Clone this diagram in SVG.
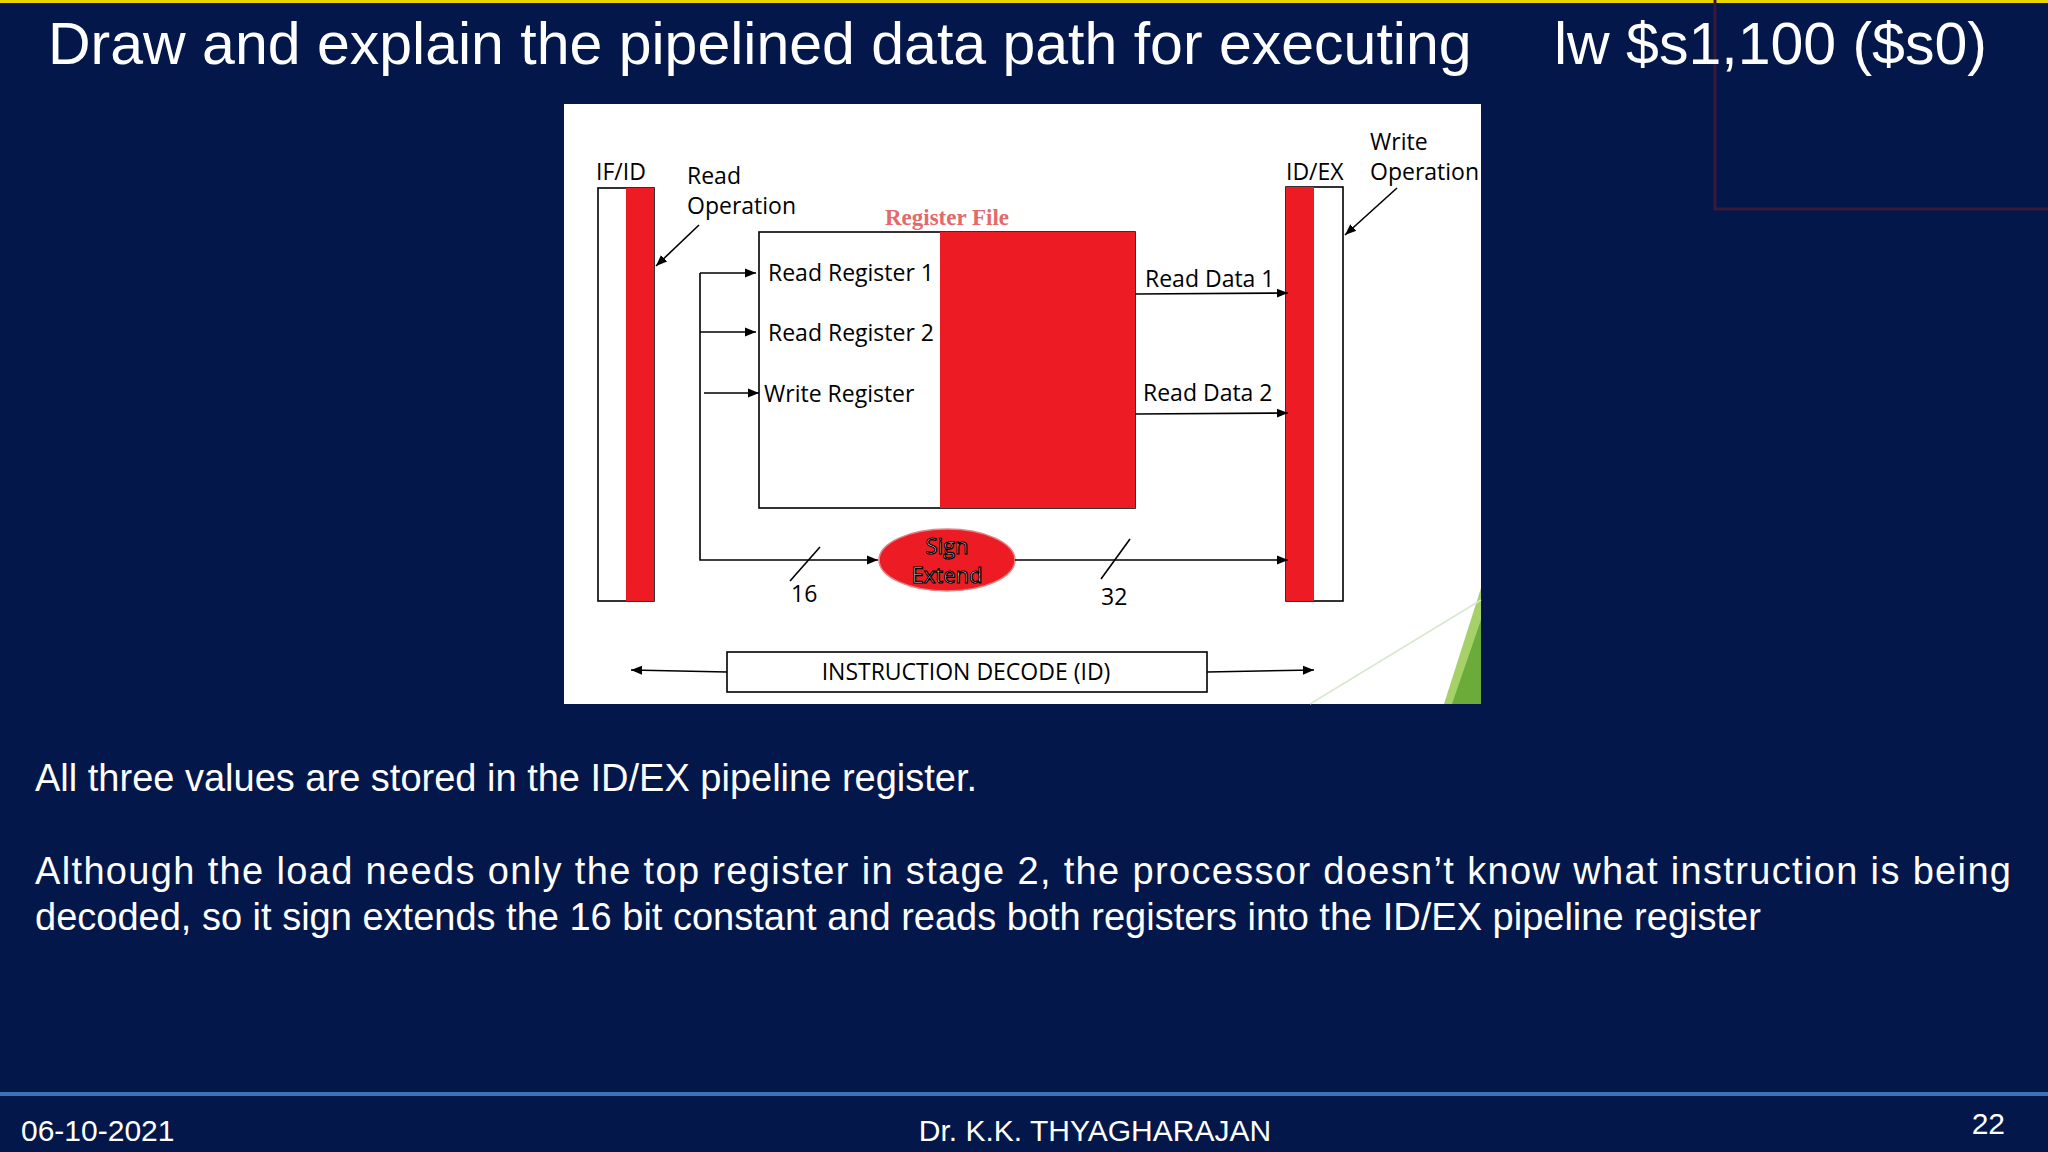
<svg xmlns="http://www.w3.org/2000/svg" width="2048" height="1152" viewBox="0 0 2048 1152">
<defs>
<marker id="ah" viewBox="0 0 10 10" refX="10" refY="5" markerWidth="7" markerHeight="7" orient="auto-start-reverse"><path d="M0,1 L10,5 L0,9 z" fill="#000"/></marker>
<style>
.w{font-family:"Liberation Sans",Arial,sans-serif;fill:#fff}
.d{font-family:"Open Sans","DejaVu Sans",sans-serif;fill:#000;font-size:23px}
.ln{stroke:#000;stroke-width:1.6;fill:none}
.box{fill:#fff;stroke:#000;stroke-width:1.6}
.red{fill:#ed1c24}
</style>
</defs>
<rect width="2048" height="1152" fill="#03174a"/>
<rect width="2048" height="3" fill="#e8d800"/>
<path d="M1715,0 V209 H2048" stroke="#3a1838" stroke-width="3" fill="none"/>
<text class="w" x="48" y="64" font-size="59">Draw and explain the pipelined data path for executing</text>
<text class="w" x="1554" y="64" font-size="59">lw $s1,100 ($s0)</text>
<rect x="564" y="104" width="917" height="600" fill="#fff"/>
<path d="M1481,588 L1481,704 L1444,704 Z" fill="#a6d06a"/>
<path d="M1481,620 L1481,704 L1452,704 Z" fill="#6aab3a"/>
<line x1="1310" y1="704" x2="1481" y2="600" stroke="#d8e8d0" stroke-width="1.5"/>
<g id="ifid">
<rect class="box" x="598" y="188" width="56" height="413"/>
<rect class="red" x="626" y="188" width="28" height="413"/>
<text class="d" x="596" y="180">IF/ID</text>
<text class="d" x="687" y="184">Read</text>
<text class="d" x="687" y="214">Operation</text>
</g>
<g id="regfile">
<text x="947" y="225" text-anchor="middle" font-family="Liberation Serif,serif" font-weight="bold" font-size="23" fill="#e36a6a">Register File</text>
<rect class="box" x="759" y="232" width="376" height="276"/>
<rect class="red" x="940" y="232" width="195" height="276"/>
<text class="d" x="768" y="281">Read Register 1</text>
<text class="d" x="768" y="341">Read Register 2</text>
<text class="d" x="764" y="402">Write Register</text>
<text class="d" x="1145" y="287">Read Data 1</text>
<text class="d" x="1143" y="401">Read Data 2</text>
</g>
<g id="signext">
<ellipse cx="947" cy="560" rx="68" ry="31" fill="#ed1c24" stroke="#d88" stroke-width="1.5"/>
<text x="947" y="554" text-anchor="middle" font-family="Open Sans,sans-serif" font-size="22" fill="#fff" stroke="#000" stroke-width="1.2">Sign</text>
<text x="947" y="583" text-anchor="middle" font-family="Open Sans,sans-serif" font-size="22" fill="#fff" stroke="#000" stroke-width="1.2">Extend</text>
</g>
<g id="idex">
<rect class="box" x="1286" y="187" width="57" height="414"/>
<rect class="red" x="1286" y="187" width="28" height="414"/>
<text class="d" x="1286" y="180">ID/EX</text>
<text class="d" x="1370" y="150">Write</text>
<text class="d" x="1370" y="180">Operation</text>
</g>
<g id="decode">
<rect class="box" x="727" y="652" width="480" height="40"/>
<text class="d" x="966" y="680" text-anchor="middle">INSTRUCTION DECODE (ID)</text>
</g>
<g id="connectors">
<line class="ln" x1="699" y1="225" x2="656" y2="266" marker-end="url(#ah)"/>
<line class="ln" x1="1397" y1="188" x2="1345" y2="235" marker-end="url(#ah)"/>
<path class="ln" d="M700,273 V560 H878" marker-end="url(#ah)"/>
<line class="ln" x1="700" y1="273" x2="756" y2="273" marker-end="url(#ah)"/>
<line class="ln" x1="700" y1="332" x2="756" y2="332" marker-end="url(#ah)"/>
<line class="ln" x1="704" y1="393" x2="759" y2="393" marker-end="url(#ah)"/>
<line class="ln" x1="1135" y1="294" x2="1288" y2="293" marker-end="url(#ah)"/>
<line class="ln" x1="1135" y1="414" x2="1288" y2="413" marker-end="url(#ah)"/>
<line class="ln" x1="1015" y1="560" x2="1288" y2="560" marker-end="url(#ah)"/>
<line class="ln" x1="790" y1="581" x2="820" y2="547"/>
<line class="ln" x1="1101" y1="579" x2="1130" y2="539"/>
<line class="ln" x1="727" y1="672" x2="631" y2="670" marker-end="url(#ah)"/>
<line class="ln" x1="1207" y1="672" x2="1314" y2="670" marker-end="url(#ah)"/>
</g>
<text class="d" x="791" y="602">16</text>
<text class="d" x="1101" y="605">32</text>
<text class="w" x="35" y="791" font-size="38">All three values are stored in the ID/EX pipeline register.</text>
<text class="w" x="35" y="884" font-size="38" textLength="1976" lengthAdjust="spacing">Although the load needs only the top register in stage 2, the processor doesn’t know what instruction is being</text>
<text class="w" x="35" y="930" font-size="38">decoded, so it sign extends the 16 bit constant and reads both registers into the ID/EX pipeline register</text>
<rect x="0" y="1092" width="2048" height="4" fill="#3a72b8"/>
<text class="w" x="21" y="1141" font-size="30">06-10-2021</text>
<text class="w" x="1095" y="1141" font-size="30" text-anchor="middle">Dr. K.K. THYAGHARAJAN</text>
<text class="w" x="2005" y="1134" font-size="30" text-anchor="end">22</text>
</svg>
